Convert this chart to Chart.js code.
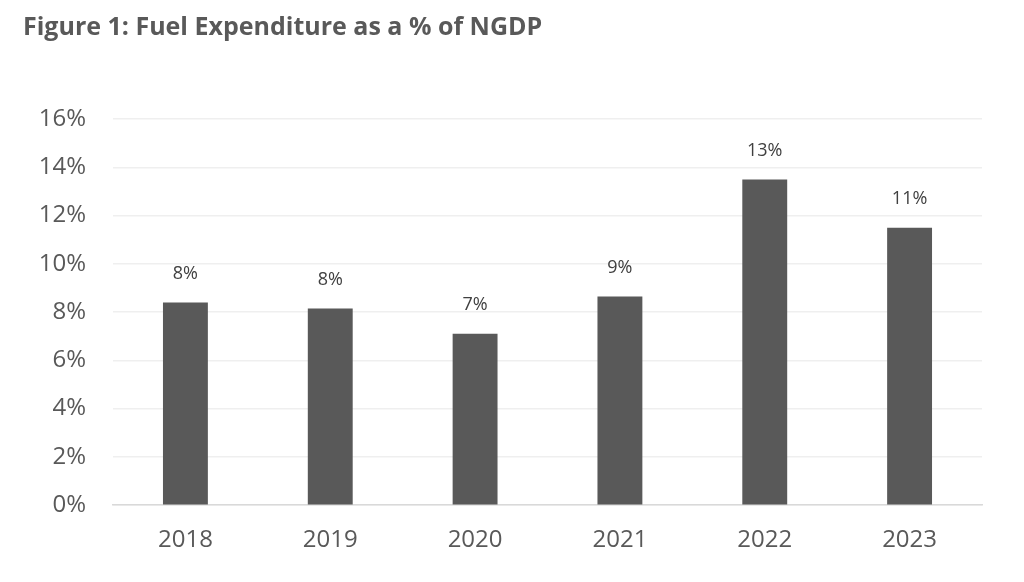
<!DOCTYPE html>
<html>
<head>
<meta charset="utf-8">
<script src="https://cdn.jsdelivr.net/npm/chart.js@4.4.1/dist/chart.umd.min.js"></script>
<style>
  html, body { margin: 0; padding: 0; background: #ffffff; }
  #wrap { width: 1024px; height: 582px; }
</style>
</head>
<body>
<div id="wrap"><canvas id="fuelChart"></canvas></div>
<script>
// data
const years = ["2018", "2019", "2020", "2021", "2022", "2023"];
const fuelShare = [8.40, 8.15, 7.10, 8.65, 13.49, 11.49];
const yTicks = [0, 2, 4, 6, 8, 10, 12, 14, 16];

const textGrey = "#595959";
const barGrey = "#595959";

// value labels above the bars (no datalabels plugin available)
const barLabels = {
    id: "barLabels",
    afterDatasetsDraw(chart) {
        const ctx = chart.ctx;
        const meta = chart.getDatasetMeta(0);
        ctx.save();
        ctx.font = "18px 'Open Sans'";
        ctx.fillStyle = "#404040";
        ctx.textAlign = "center";
        ctx.textBaseline = "middle";
        meta.data.forEach((bar, i) => {
            ctx.fillText(Math.round(fuelShare[i]) + "%", bar.x, bar.y - 29);
        });
        ctx.restore();
    }
};

new Chart(document.getElementById("fuelChart"), {
    type: "bar",
    data: {
        labels: years,
        datasets: [{
            data: fuelShare,
            backgroundColor: barGrey,
            borderWidth: 0,
            categoryPercentage: 1,
            barPercentage: 0.31
        }]
    },
    options: {
        responsive: true,
        maintainAspectRatio: false,
        animation: false,
        layout: {
            padding: { left: 23, right: 42, top: 0, bottom: 6 }
        },
        plugins: {
            legend: { display: false },
            tooltip: { enabled: false },
            title: {
                display: true,
                text: "Figure 1: Fuel Expenditure as a % of NGDP",
                align: "start",
                color: textGrey,
                font: { family: "'Open Sans'", size: 25, weight: "bold" },
                padding: { top: 13, bottom: 76 }
            }
        },
        scales: {
            x: {
                grid: { display: false, drawTicks: false },
                border: { display: true, color: "#d9d9d9", width: 1.5 },
                ticks: {
                    color: textGrey,
                    font: { family: "'Open Sans'", size: 24 },
                    padding: 21
                }
            },
            y: {
                min: 0,
                max: 16,
                afterFit(scale) { scale.width = 90; },
                afterBuildTicks(scale) {
                    scale.ticks = yTicks.map(v => ({ value: v }));
                },
                grid: { color: "#efefef", lineWidth: 1.5, drawTicks: false },
                border: { display: false },
                ticks: {
                    color: textGrey,
                    font: { family: "'Open Sans'", size: 24 },
                    padding: 27,
                    callback: v => v + "%"
                }
            }
        }
    },
    plugins: [barLabels]
});
</script>
</body>
</html>
